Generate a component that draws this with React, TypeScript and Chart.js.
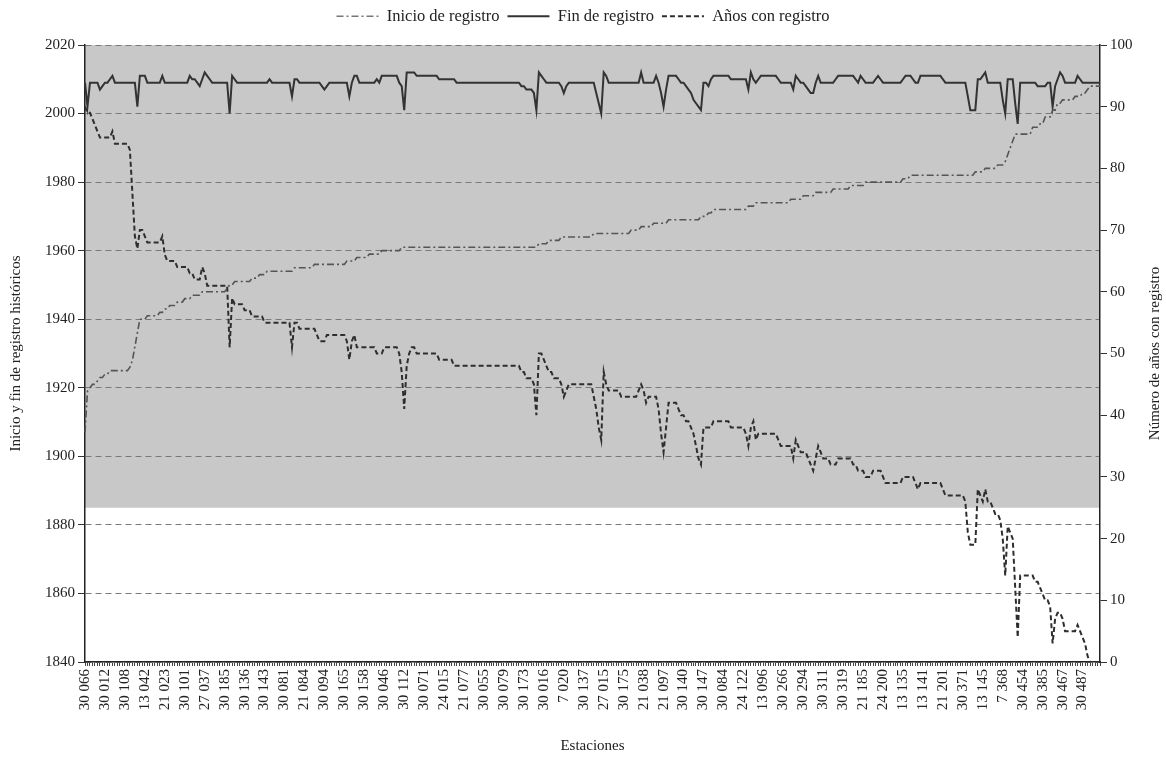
import React, { useEffect, useRef } from 'react';
import { Chart, registerables } from 'chart.js';

Chart.register(...registerables);

// Station codes shown on the x axis (one label every 8 stations)
const stationLabels = [
  '30 066', '30 012', '30 108', '13 042', '21 023', '30 101', '27 037', '30 185', '30 136', '30 143',
  '30 081', '21 084', '30 094', '30 165', '30 158', '30 046', '30 112', '30 071', '24 015', '21 077',
  '30 055', '30 079', '30 173', '30 016', '7 020', '30 137', '27 015', '30 175', '21 038', '21 097',
  '30 140', '30 147', '30 084', '24 122', '13 096', '30 266', '30 294', '30 311', '30 319', '21 185',
  '24 200', '13 135', '13 141', '21 201', '30 371', '13 145', '7 368', '30 454', '30 385', '30 467',
  '30 487',
];
const stationsPerLabel = 8;
const stationCount = 408;

// Inicio de registro (left axis, year)
const inicioRegistro = [
  1907, 1919, 1920, 1921, 1921, 1922, 1923, 1923, 1924, 1924,
  1925, 1925, 1925, 1925, 1925, 1925, 1925, 1925, 1926, 1928,
  1932, 1936, 1940, 1940, 1940, 1941, 1941, 1941, 1941, 1941,
  1942, 1942, 1943, 1943, 1944, 1944, 1944, 1945, 1945, 1945,
  1946, 1946, 1946, 1947, 1947, 1947, 1947, 1948, 1948, 1948,
  1948, 1948, 1948, 1948, 1948, 1948, 1948, 1949, 1950, 1950,
  1951, 1951, 1951, 1951, 1951, 1951, 1951, 1952, 1952, 1952,
  1953, 1953, 1953, 1954, 1954, 1954, 1954, 1954, 1954, 1954,
  1954, 1954, 1954, 1954, 1955, 1955, 1955, 1955, 1955, 1955,
  1955, 1955, 1956, 1956, 1956, 1956, 1956, 1956, 1956, 1956,
  1956, 1956, 1956, 1956, 1956, 1957, 1957, 1957, 1957, 1958,
  1958, 1958, 1958, 1958, 1959, 1959, 1959, 1959, 1959, 1960,
  1960, 1960, 1960, 1960, 1960, 1960, 1960, 1961, 1961, 1961,
  1961, 1961, 1961, 1961, 1961, 1961, 1961, 1961, 1961, 1961,
  1961, 1961, 1961, 1961, 1961, 1961, 1961, 1961, 1961, 1961,
  1961, 1961, 1961, 1961, 1961, 1961, 1961, 1961, 1961, 1961,
  1961, 1961, 1961, 1961, 1961, 1961, 1961, 1961, 1961, 1961,
  1961, 1961, 1961, 1961, 1961, 1961, 1961, 1961, 1961, 1961,
  1961, 1961, 1962, 1962, 1962, 1962, 1963, 1963, 1963, 1963,
  1963, 1964, 1964, 1964, 1964, 1964, 1964, 1964, 1964, 1964,
  1964, 1964, 1964, 1964, 1965, 1965, 1965, 1965, 1965, 1965,
  1965, 1965, 1965, 1965, 1965, 1965, 1965, 1965, 1965, 1966,
  1966, 1966, 1966, 1967, 1967, 1967, 1967, 1967, 1968, 1968,
  1968, 1968, 1968, 1968, 1969, 1969, 1969, 1969, 1969, 1969,
  1969, 1969, 1969, 1969, 1969, 1969, 1969, 1970, 1970, 1970,
  1971, 1971, 1972, 1972, 1972, 1972, 1972, 1972, 1972, 1972,
  1972, 1972, 1972, 1972, 1972, 1972, 1973, 1973, 1973, 1974,
  1974, 1974, 1974, 1974, 1974, 1974, 1974, 1974, 1974, 1974,
  1974, 1974, 1974, 1975, 1975, 1975, 1975, 1975, 1976, 1976,
  1976, 1976, 1976, 1977, 1977, 1977, 1977, 1977, 1977, 1977,
  1978, 1978, 1978, 1978, 1978, 1978, 1978, 1979, 1979, 1979,
  1979, 1979, 1979, 1980, 1980, 1980, 1980, 1980, 1980, 1980,
  1980, 1980, 1980, 1980, 1980, 1980, 1980, 1980, 1981, 1981,
  1981, 1982, 1982, 1982, 1982, 1982, 1982, 1982, 1982, 1982,
  1982, 1982, 1982, 1982, 1982, 1982, 1982, 1982, 1982, 1982,
  1982, 1982, 1982, 1982, 1982, 1982, 1982, 1983, 1983, 1983,
  1983, 1984, 1984, 1984, 1984, 1984, 1985, 1985, 1985, 1986,
  1988, 1990, 1992, 1994, 1994, 1994, 1994, 1994, 1994, 1994,
  1996, 1996, 1996, 1997, 1997, 1999, 1999, 1999, 2001, 2001,
  2003, 2003, 2004, 2004, 2004, 2004, 2004, 2005, 2005, 2005,
  2006, 2006, 2007, 2008, 2008, 2008, 2008, 2008,
];

// Fin de registro (left axis, year)
const finRegistro = [
  2009, 2002, 2009, 2009, 2009, 2009, 2007, 2008, 2009, 2009,
  2010, 2011, 2009, 2009, 2009, 2009, 2009, 2009, 2009, 2009,
  2009, 2002, 2011, 2011, 2011, 2009, 2009, 2009, 2009, 2009,
  2009, 2011, 2009, 2009, 2009, 2009, 2009, 2009, 2009, 2009,
  2009, 2009, 2011, 2010, 2010, 2009, 2008, 2010, 2012, 2011,
  2010, 2009, 2009, 2009, 2009, 2009, 2009, 2009, 2000, 2011,
  2010, 2009, 2009, 2009, 2009, 2009, 2009, 2009, 2009, 2009,
  2009, 2009, 2009, 2009, 2010, 2009, 2009, 2009, 2009, 2009,
  2009, 2009, 2009, 2005, 2010, 2010, 2009, 2009, 2009, 2009,
  2009, 2009, 2009, 2009, 2009, 2008, 2007, 2008, 2009, 2009,
  2009, 2009, 2009, 2009, 2009, 2009, 2005, 2009, 2011, 2011,
  2009, 2009, 2009, 2009, 2009, 2009, 2009, 2010, 2009, 2011,
  2011, 2011, 2011, 2011, 2011, 2011, 2009, 2008, 2001, 2012,
  2012, 2012, 2012, 2011, 2011, 2011, 2011, 2011, 2011, 2011,
  2011, 2011, 2010, 2010, 2010, 2010, 2010, 2010, 2010, 2009,
  2009, 2009, 2009, 2009, 2009, 2009, 2009, 2009, 2009, 2009,
  2009, 2009, 2009, 2009, 2009, 2009, 2009, 2009, 2009, 2009,
  2009, 2009, 2009, 2009, 2009, 2008, 2008, 2007, 2007, 2007,
  2006, 2001, 2012, 2011, 2010, 2009, 2009, 2009, 2009, 2009,
  2009, 2008, 2006, 2008, 2009, 2009, 2009, 2009, 2009, 2009,
  2009, 2009, 2009, 2009, 2009, 2006, 2003, 2000, 2012, 2011,
  2009, 2009, 2009, 2009, 2009, 2009, 2009, 2009, 2009, 2009,
  2009, 2009, 2009, 2012, 2009, 2009, 2009, 2009, 2009, 2011,
  2009, 2006, 2002, 2007, 2011, 2011, 2011, 2011, 2010, 2009,
  2009, 2008, 2007, 2006, 2004, 2003, 2002, 2001, 2009, 2009,
  2008, 2010, 2011, 2011, 2011, 2011, 2011, 2011, 2011, 2010,
  2010, 2010, 2010, 2010, 2010, 2010, 2007, 2012, 2010, 2009,
  2010, 2011, 2011, 2011, 2011, 2011, 2011, 2011, 2010, 2009,
  2009, 2009, 2009, 2009, 2007, 2011, 2010, 2009, 2009, 2008,
  2007, 2006, 2006, 2009, 2011, 2009, 2009, 2009, 2009, 2009,
  2009, 2010, 2011, 2011, 2011, 2011, 2011, 2011, 2011, 2010,
  2009, 2011, 2010, 2009, 2009, 2009, 2009, 2010, 2011, 2010,
  2009, 2009, 2009, 2009, 2009, 2009, 2009, 2009, 2010, 2011,
  2011, 2011, 2010, 2009, 2009, 2011, 2011, 2011, 2011, 2011,
  2011, 2011, 2011, 2011, 2010, 2009, 2009, 2009, 2009, 2009,
  2009, 2009, 2009, 2009, 2005, 2001, 2001, 2001, 2010, 2010,
  2011, 2012, 2009, 2009, 2009, 2009, 2009, 2009, 2004, 2000,
  2010, 2010, 2010, 2003, 1997, 2009, 2009, 2009, 2009, 2009,
  2009, 2009, 2008, 2008, 2008, 2008, 2009, 2009, 2002, 2008,
  2010, 2012, 2011, 2009, 2009, 2009, 2009, 2009, 2011, 2010,
  2009, 2009, 2009, 2009, 2009, 2009, 2009, 2009,
];

// Años con registro (right axis, number of years)
const anosConRegistro = [
  90, 89, 89, 88, 87, 86, 85, 85, 85, 85,
  85, 86, 84, 84, 84, 84, 84, 84, 83, 76,
  69, 67, 70, 70, 69, 68, 68, 68, 68, 68,
  68, 69, 66, 65, 65, 65, 65, 64, 64, 64,
  64, 64, 63, 63, 62, 62, 62, 64, 63, 61,
  61, 61, 61, 61, 61, 61, 61, 61, 51, 59,
  58, 58, 58, 58, 57, 57, 57, 56, 56, 56,
  56, 56, 55, 55, 55, 55, 55, 55, 55, 55,
  55, 55, 55, 51, 55, 55, 54, 54, 54, 54,
  54, 54, 54, 53, 52, 52, 52, 53, 53, 53,
  53, 53, 53, 53, 53, 52, 49, 52, 53, 51,
  51, 51, 51, 51, 51, 51, 51, 50, 50, 50,
  51, 51, 51, 51, 51, 51, 50, 47, 41, 48,
  50, 51, 51, 50, 50, 50, 50, 50, 50, 50,
  50, 50, 49, 49, 49, 49, 49, 49, 48, 48,
  48, 48, 48, 48, 48, 48, 48, 48, 48, 48,
  48, 48, 48, 48, 48, 48, 48, 48, 48, 48,
  48, 48, 48, 48, 48, 47, 47, 46, 46, 46,
  45, 40, 50, 50, 49, 48, 47, 47, 46, 46,
  46, 45, 43, 44, 45, 45, 45, 45, 45, 45,
  45, 45, 45, 45, 43, 41, 38, 36, 47, 45,
  44, 44, 44, 44, 44, 43, 43, 43, 43, 43,
  43, 43, 44, 45, 44, 42, 43, 43, 43, 43,
  41, 37, 34, 38, 42, 42, 42, 42, 41, 40,
  40, 39, 39, 38, 37, 35, 33, 32, 38, 38,
  38, 38, 39, 39, 39, 39, 39, 39, 39, 38,
  38, 38, 38, 38, 38, 37, 35, 38, 39, 36,
  37, 37, 37, 37, 37, 37, 37, 37, 36, 35,
  35, 35, 35, 35, 33, 36, 35, 34, 34, 34,
  33, 32, 31, 33, 35, 34, 33, 33, 33, 32,
  32, 32, 33, 33, 33, 33, 33, 33, 32, 32,
  31, 31, 31, 30, 30, 30, 31, 31, 31, 31,
  30, 29, 29, 29, 29, 29, 29, 29, 30, 30,
  30, 30, 30, 29, 28, 29, 29, 29, 29, 29,
  29, 29, 29, 29, 28, 27, 27, 27, 27, 27,
  27, 27, 27, 26, 21, 19, 19, 19, 28, 27,
  26, 28, 26, 26, 25, 24, 24, 23, 20, 14,
  22, 21, 20, 12, 4, 14, 14, 14, 14, 14,
  14, 13, 13, 12, 11, 10, 10, 9, 3, 7,
  8, 8, 7, 5, 5, 5, 5, 5, 6, 5,
  4, 3, 1, 0, 0, 0, 0, 0,
];

const leftAxisMin = 1840;
const leftAxisMax = 2020;
const leftAxisStep = 20;
const rightAxisMin = 0;
const rightAxisMax = 100;
const rightAxisStep = 10;
// Shaded band: from 25 years of record (right axis) up to the top
const shadedFromYears = 25;

const seriesNames = ['Inicio de registro', 'Fin de registro', 'Años con registro'];
const leftTitle = 'Inicio y fin de registro históricos';
const rightTitle = 'Número de años con registro';
const xTitle = 'Estaciones';

const FONT = "'Liberation Serif', 'Times New Roman', serif";
const TEXT = '#222222';

export default function App() {
  const canvasRef = useRef<HTMLCanvasElement | null>(null);

  useEffect(() => {
    const canvas = canvasRef.current;
    if (!canvas) return;

    const categories = Array.from({ length: stationCount }, (_, i) =>
      i % stationsPerLabel === 0 ? stationLabels[i / stationsPerLabel] ?? '' : ''
    );

    const shadePlugin = {
      id: 'shadeBand',
      beforeDraw(chart: any) {
        const { ctx, chartArea, scales } = chart;
        const yb = scales.y1.getPixelForValue(shadedFromYears);
        ctx.save();
        ctx.fillStyle = '#c8c8c8';
        ctx.fillRect(chartArea.left, chartArea.top, chartArea.right - chartArea.left, yb - chartArea.top);
        ctx.restore();
      },
    };

    const rightTitlePlugin = {
      id: 'rightTitle',
      afterDraw(chart: any) {
        const { ctx, chartArea, scales } = chart;
        ctx.save();
        ctx.font = `15px ${FONT}`;
        ctx.fillStyle = TEXT;
        ctx.textAlign = 'center';
        ctx.textBaseline = 'middle';
        ctx.translate(scales.y1.right - 11, (chartArea.top + chartArea.bottom) / 2);
        ctx.rotate(-Math.PI / 2);
        ctx.fillText(rightTitle, 0, 0);
        ctx.restore();
      },
    };

    Chart.defaults.font.family = FONT;
    Chart.defaults.color = TEXT;

    const defaultGenerate = (Chart as any).defaults.plugins.legend.labels.generateLabels;

    const chart = new Chart(canvas, {
      type: 'line',
      data: {
        labels: categories,
        datasets: [
          {
            label: seriesNames[0],
            data: inicioRegistro,
            yAxisID: 'y',
            borderColor: '#555555',
            backgroundColor: '#555555',
            borderWidth: 1.6,
            borderDash: [7, 3, 2, 3],
            pointRadius: 0,
            tension: 0,
          },
          {
            label: seriesNames[1],
            data: finRegistro,
            yAxisID: 'y',
            borderColor: '#333333',
            backgroundColor: '#333333',
            borderWidth: 2,
            pointRadius: 0,
            tension: 0,
          },
          {
            label: seriesNames[2],
            data: anosConRegistro,
            yAxisID: 'y1',
            borderColor: '#2e2e2e',
            backgroundColor: '#2e2e2e',
            borderWidth: 2,
            borderDash: [5, 3],
            pointRadius: 0,
            tension: 0,
          },
        ],
      },
      options: {
        responsive: false,
        animation: false,
        events: [],
        layout: { padding: { left: 0, right: 0, top: 0, bottom: 0 } },
        plugins: {
          tooltip: { enabled: false },
          legend: {
            display: true,
            position: 'top',
            weight: 1000,
            labels: {
              font: { size: 16.5, family: FONT },
              color: TEXT,
              usePointStyle: true,
              pointStyle: 'line',
              pointStyleWidth: 42,
              padding: 8,
              generateLabels(chart: any) {
                const items = defaultGenerate(chart);
                return items.map((item: any) => {
                  const ds = chart.data.datasets[item.datasetIndex];
                  return {
                    ...item,
                    lineDash: ds.borderDash || [],
                    lineWidth: ds.borderWidth,
                    strokeStyle: item.datasetIndex === 0 ? '#777777' : ds.borderColor,
                    pointStyle: 'line',
                  };
                });
              },
            },
          },
          title: {
            display: true,
            text: '',
            weight: 500,
            font: { size: 1 },
            padding: { top: 0, bottom: 9.3 },
          },
        },
        scales: {
          x: {
            type: 'category',
            offset: false,
            grid: {
              display: true,
              drawOnChartArea: false,
              drawTicks: true,
              tickLength: 4,
              tickColor: '#444444',
              tickWidth: 1,
            },
            border: { display: true, color: '#222222', width: 1.5 },
            ticks: {
              autoSkip: false,
              maxRotation: 90,
              minRotation: 90,
              padding: 3,
              font: { size: 15, family: FONT },
              color: TEXT,
            },
            title: {
              display: true,
              text: xTitle,
              font: { size: 15, family: FONT },
              color: TEXT,
              padding: { top: 0, bottom: 2 },
            },
            afterFit(scale: any) {
              scale.height = 95;
            },
          },
          y: {
            type: 'linear',
            position: 'left',
            min: leftAxisMin,
            max: leftAxisMax,
            ticks: {
              stepSize: leftAxisStep,
              font: { size: 15, family: FONT },
              color: TEXT,
              padding: 3,
              callback: (v: any) => String(v),
            },
            grid: {
              color: '#7a7a7a',
              lineWidth: 1,
              drawTicks: true,
              tickLength: 7,
              tickColor: '#333333',
            },
            border: { display: true, color: '#222222', width: 1.5, dash: [6, 4] },
            title: {
              display: true,
              text: leftTitle,
              font: { size: 15, family: FONT },
              color: TEXT,
              padding: { top: 7, bottom: 0 },
            },
            afterFit(scale: any) {
              scale.width = 85;
            },
          },
          y1: {
            type: 'linear',
            position: 'right',
            min: rightAxisMin,
            max: rightAxisMax,
            ticks: {
              stepSize: rightAxisStep,
              font: { size: 15, family: FONT },
              color: TEXT,
              padding: 3,
              callback: (v: any) => String(v),
            },
            grid: {
              drawOnChartArea: false,
              drawTicks: true,
              tickLength: 7,
              tickColor: '#333333',
            },
            border: { display: true, color: '#222222', width: 1.5 },
            title: { display: false },
            afterFit(scale: any) {
              scale.width = 66;
            },
          },
        },
      },
      plugins: [shadePlugin, rightTitlePlugin],
    } as any);

    return () => {
      chart.destroy();
    };
  }, []);

  return (
    <div style={{ position: 'absolute', left: 0, top: 0, width: 1166, height: 757 }}>
      <canvas ref={canvasRef} width={1166} height={757} style={{ display: 'block' }} />
    </div>
  );
}
